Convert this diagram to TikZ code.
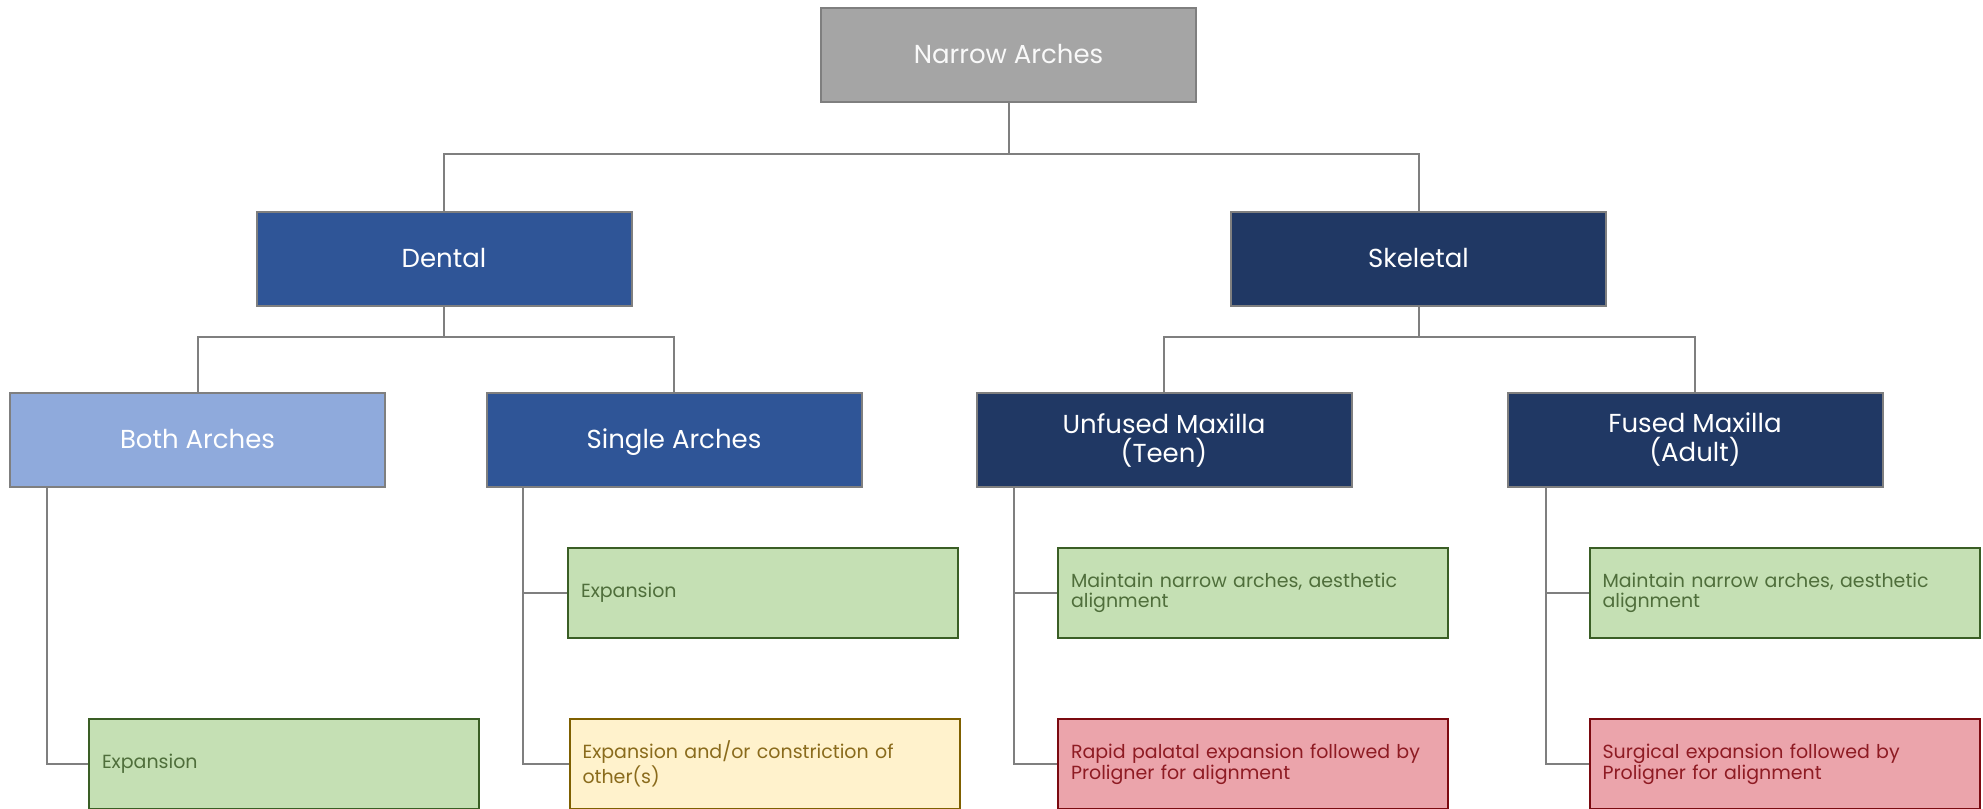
\documentclass[tikz,border=0pt]{standalone}
\usepackage{fontspec}
\setmainfont{Poppins}
\definecolor{linegray}{HTML}{7F7F7F}
\definecolor{topfill}{HTML}{A5A5A5}
\definecolor{midblue}{HTML}{2F5597}
\definecolor{darkblue}{HTML}{203864}
\definecolor{lightblue}{HTML}{8FAADC}
\definecolor{greenfill}{HTML}{C5E0B4}
\definecolor{greenline}{HTML}{3A5E25}
\definecolor{greentext}{HTML}{4F6E3B}
\definecolor{yellowfill}{HTML}{FFF2CC}
\definecolor{yellowline}{HTML}{7F6000}
\definecolor{yellowtext}{HTML}{8A6B1C}
\definecolor{redfill}{HTML}{EBA4AB}
\definecolor{redline}{HTML}{7B0A10}
\definecolor{redtext}{HTML}{8E1B23}
\tikzset{
  head/.style={rectangle, draw=linegray, line width=1pt, minimum width=187.5pt,
    minimum height=47pt, inner sep=0pt, text=white, align=center,
    font=\fontsize{13}{14.5}\selectfont},
  onehead/.style={head, text height=9.5pt, text depth=0.8pt},
  leaf/.style={rectangle, line width=1pt, text width=182pt, inner xsep=6.5pt,
    inner ysep=0pt, minimum height=45pt, align=left,
    font=\fontsize{9.5}{10.3}\selectfont},
  greenleaf/.style={leaf, fill=greenfill, draw=greenline, text=greentext},
  yellowleaf/.style={leaf, fill=yellowfill, draw=yellowline, text=yellowtext},
  redleaf/.style={leaf, fill=redfill, draw=redline, text=redtext},
  wire/.style={draw=linegray, line width=1pt}
}
\begin{document}
\begin{tikzpicture}[x=0.5pt, y=-0.5pt]
\useasboundingbox (0,0) rectangle (1983,809);
\fill[white] (0,0) rectangle (1983,809);

% top level
\node[onehead, fill=topfill, text=white!95!gray] (top) at (1008.5,55) {Narrow Arches};

% second level
\node[onehead, fill=midblue] (dental) at (444,258.5) {Dental};
\node[onehead, fill=darkblue] (skeletal) at (1418.5,258.5) {Skeletal};

% third level
\node[onehead, fill=lightblue] (both) at (197.5,440) {Both Arches};
\node[onehead, fill=midblue] (single) at (674,440) {Single Arches};
\node[head, fill=darkblue] (unfused) at (1164,440) {Unfused Maxilla\\(Teen)};
\node[head, fill=darkblue] (fused) at (1695,440) {Fused Maxilla\\(Adult)};

% treatment options
\node[greenleaf] (bothexp) at (284,764) {Expansion};
\node[greenleaf] (singleexp) at (763,593) {Expansion};
\node[yellowleaf] (singlemix) at (764.5,764) {Expansion and/or constriction of\\other(s)};
\node[greenleaf] (unfusedkeep) at (1253,593) {Maintain narrow arches, aesthetic\\alignment};
\node[redleaf] (unfusedrpe) at (1253,764) {\mbox{Rapid palatal expansion followed by}\\Proligner for alignment};
\node[greenleaf] (fusedkeep) at (1784.5,593) {Maintain narrow arches, aesthetic\\alignment};
\node[redleaf] (fusedsurg) at (1784.5,764) {Surgical expansion followed by\\Proligner for alignment};

% hierarchy connectors
\draw[wire] (top.south) -- ++(0,51) -| (dental.north);
\draw[wire] (top.south) -- ++(0,51) -| (skeletal.north);
\draw[wire] (dental.south) -- ++(0,30) -| (both.north);
\draw[wire] (dental.south) -- ++(0,30) -| (single.north);
\draw[wire] (skeletal.south) -- ++(0,30) -| (unfused.north);
\draw[wire] (skeletal.south) -- ++(0,30) -| (fused.north);

% option connectors
\draw[wire] ([xshift=19pt]both.south west) |- (bothexp.west);
\draw[wire] ([xshift=18.5pt]single.south west) |- (singleexp.west);
\draw[wire] ([xshift=18.5pt]single.south west) |- (singlemix.west);
\draw[wire] ([xshift=19pt]unfused.south west) |- (unfusedkeep.west);
\draw[wire] ([xshift=19pt]unfused.south west) |- (unfusedrpe.west);
\draw[wire] ([xshift=19.5pt]fused.south west) |- (fusedkeep.west);
\draw[wire] ([xshift=19.5pt]fused.south west) |- (fusedsurg.west);
\end{tikzpicture}
\end{document}
